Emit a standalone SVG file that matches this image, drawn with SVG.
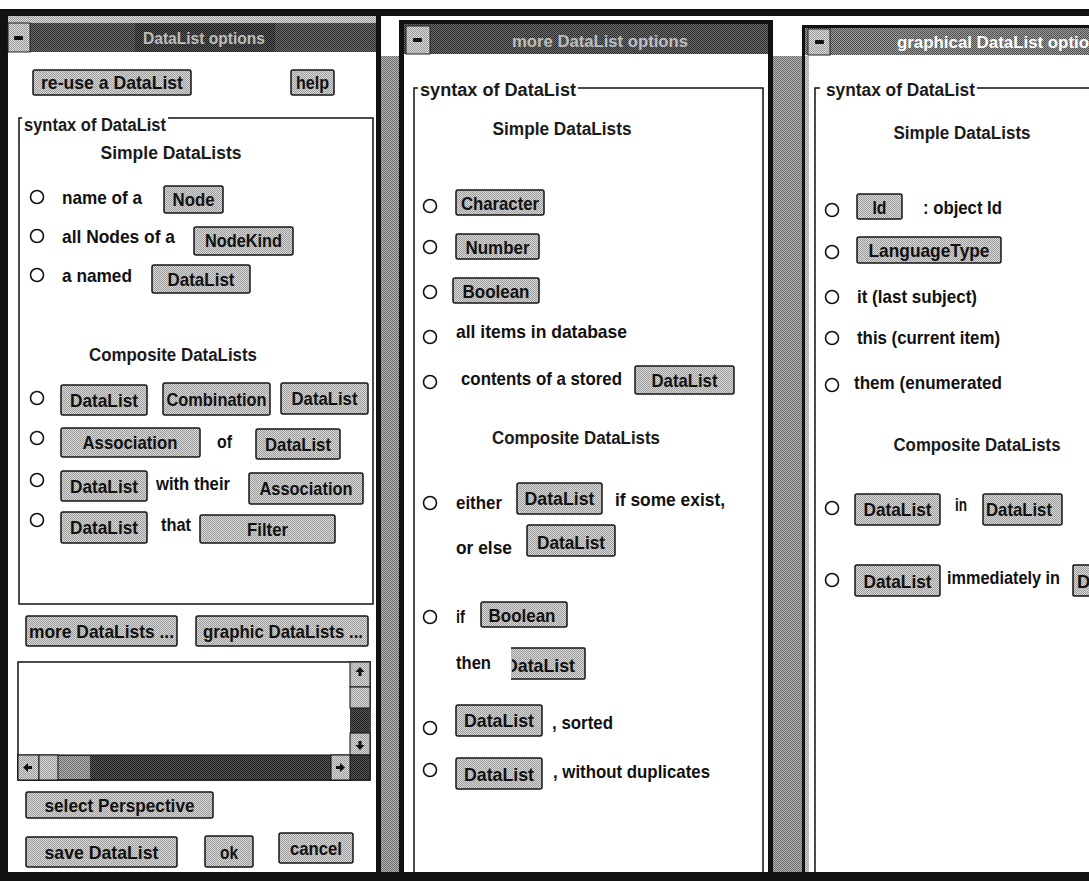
<svg xmlns="http://www.w3.org/2000/svg" width="1089" height="881" viewBox="0 0 1089 881">
<defs>
<pattern id="dith" width="2" height="2" patternUnits="userSpaceOnUse"><rect width="2" height="2" fill="#d8d8d8"/><rect width="1" height="1" fill="#9c9c9c"/><rect x="1" y="1" width="1" height="1" fill="#9c9c9c"/></pattern>
<pattern id="dithMid" width="2" height="2" patternUnits="userSpaceOnUse"><rect width="2" height="2" fill="#b4b4b4"/><rect width="1" height="1" fill="#6a6a6a"/><rect x="1" y="1" width="1" height="1" fill="#6a6a6a"/></pattern>
<pattern id="dithDark" width="2" height="2" patternUnits="userSpaceOnUse"><rect width="2" height="2" fill="#5a5a5a"/><rect width="1" height="1" fill="#1c1c1c"/><rect x="1" y="1" width="1" height="1" fill="#1c1c1c"/></pattern>
<pattern id="dithT2" width="2" height="2" patternUnits="userSpaceOnUse"><rect width="2" height="2" fill="#6e6e6e"/><rect width="1" height="1" fill="#2c2c2c"/><rect x="1" y="1" width="1" height="1" fill="#2c2c2c"/></pattern>
<pattern id="dithT3" width="2" height="2" patternUnits="userSpaceOnUse"><rect width="2" height="2" fill="#a0a0a0"/><rect width="1" height="1" fill="#4a4a4a"/><rect x="1" y="1" width="1" height="1" fill="#4a4a4a"/></pattern>
<clipPath id="clipThen"><rect x="512" y="645" width="80" height="38"/></clipPath>
<style>
.t{font-family:"Liberation Sans Narrow","Liberation Sans",Arial,sans-serif;font-weight:bold;font-size:18.5px;fill:#111}
.h{font-size:18px;fill:#1a1a1a}
.c{text-anchor:middle}
.ttl{font-size:17px}
.btn{fill:url(#dith);stroke:#151515;stroke-width:1.5}
.rd{fill:#fff;stroke:#111;stroke-width:1.6}
.ln{stroke:#111;stroke-width:1.5;fill:none}
.sys{fill:url(#dith);stroke:#222;stroke-width:1}
.min{fill:#111}
.arr{fill:#111}
</style>
</defs>
<rect width="1089" height="881" fill="#fff"/>

<g id="frames">
<rect x="0" y="9" width="1089" height="7" fill="#111"/>
<rect x="0" y="872" width="1089" height="9" fill="#111"/>
<rect x="0" y="9" width="8" height="872" fill="#111"/>
<rect x="376" y="16" width="5" height="856" fill="#111"/>
<rect x="381" y="56" width="18" height="816" fill="url(#dithMid)"/>
<rect x="399" y="20" width="5" height="852" fill="#111"/>
<rect x="399" y="20" width="373" height="4" fill="#111"/>
<rect x="768" y="20" width="5" height="852" fill="#111"/>
<rect x="773" y="56" width="29" height="816" fill="url(#dithMid)"/>
<rect x="802" y="25" width="3" height="847" fill="#111"/>
<rect x="802" y="25" width="287" height="3" fill="#111"/>
<rect x="805" y="56" width="4" height="816" fill="url(#dith)"/>
</g>

<g id="window-left">
<rect x="8" y="16" width="368" height="7" fill="url(#dith)"/>
<rect x="8" y="23" width="368" height="29" fill="url(#dithT2)"/>
<rect x="135" y="23" width="140" height="29" fill="url(#dithDark)"/>
<rect x="8" y="23" width="22" height="29" class="sys"/>
<rect x="14" y="36" width="9" height="4" rx="1" class="min"/>
<text class="t ttl c" x="204" y="44" textLength="122" lengthAdjust="spacingAndGlyphs" style="fill:#bdbdbd">DataList options</text>

<g id="btn-reuse"><rect class="btn" x="33" y="70" width="158" height="25" rx="2"/><text class="t c" x="112" y="89" textLength="142" lengthAdjust="spacingAndGlyphs">re-use a DataList</text></g>
<g id="btn-help"><rect class="btn" x="291" y="70" width="43" height="25" rx="2"/><text class="t c" x="312.5" y="89" textLength="33" lengthAdjust="spacingAndGlyphs">help</text></g>

<path class="ln" d="M 22 118 H 19 V 604 H 373 V 118 H 168"/>
<text class="t h" x="24" y="131" textLength="142" lengthAdjust="spacingAndGlyphs">syntax of DataList</text>
<text class="t h c" x="171" y="159" textLength="141" lengthAdjust="spacingAndGlyphs">Simple DataLists</text>

<circle class="rd" cx="37" cy="197" r="6.5"/>
<text class="t" x="62" y="204" textLength="80" lengthAdjust="spacingAndGlyphs">name of a</text>
<g id="btn-node"><rect class="btn" x="164" y="186" width="59" height="27" rx="2"/><text class="t c" x="193.5" y="206" textLength="42" lengthAdjust="spacingAndGlyphs">Node</text></g>

<circle class="rd" cx="37" cy="236" r="6.5"/>
<text class="t" x="62" y="243" textLength="113" lengthAdjust="spacingAndGlyphs">all Nodes of a</text>
<g id="btn-nodekind"><rect class="btn" x="194" y="227" width="99" height="28" rx="2"/><text class="t c" x="243.5" y="247" textLength="77" lengthAdjust="spacingAndGlyphs">NodeKind</text></g>

<circle class="rd" cx="37" cy="275" r="6.5"/>
<text class="t" x="62" y="282" textLength="70" lengthAdjust="spacingAndGlyphs">a named</text>
<g id="btn-named"><rect class="btn" x="152" y="265" width="98" height="28" rx="2"/><text class="t c" x="201" y="286" textLength="67" lengthAdjust="spacingAndGlyphs">DataList</text></g>

<text class="t h c" x="173" y="361" textLength="168" lengthAdjust="spacingAndGlyphs">Composite DataLists</text>

<circle class="rd" cx="37" cy="398" r="6.5"/>
<rect class="btn" x="61" y="385" width="86" height="30" rx="2"/><text class="t c" x="104" y="407" textLength="68" lengthAdjust="spacingAndGlyphs">DataList</text>
<rect class="btn" x="163" y="383" width="107" height="32" rx="2"/><text class="t c" x="216.5" y="406" textLength="100" lengthAdjust="spacingAndGlyphs">Combination</text>
<rect class="btn" x="281" y="383" width="87" height="31" rx="2"/><text class="t c" x="324.5" y="405" textLength="66" lengthAdjust="spacingAndGlyphs">DataList</text>

<circle class="rd" cx="37" cy="438" r="6.5"/>
<rect class="btn" x="61" y="428" width="139" height="29" rx="2"/><text class="t c" x="130" y="449" textLength="95" lengthAdjust="spacingAndGlyphs">Association</text>
<text class="t" x="217" y="448" textLength="15" lengthAdjust="spacingAndGlyphs">of</text>
<rect class="btn" x="256" y="429" width="84" height="30" rx="2"/><text class="t c" x="298" y="451" textLength="66" lengthAdjust="spacingAndGlyphs">DataList</text>

<circle class="rd" cx="37" cy="480" r="6.5"/>
<rect class="btn" x="61" y="471" width="86" height="30" rx="2"/><text class="t c" x="104" y="493" textLength="68" lengthAdjust="spacingAndGlyphs">DataList</text>
<text class="t" x="156" y="490" textLength="74" lengthAdjust="spacingAndGlyphs">with their</text>
<rect class="btn" x="249" y="473" width="114" height="31" rx="2"/><text class="t c" x="306" y="495" textLength="93" lengthAdjust="spacingAndGlyphs">Association</text>

<circle class="rd" cx="37" cy="520" r="6.5"/>
<rect class="btn" x="61" y="512" width="86" height="31" rx="2"/><text class="t c" x="104" y="534" textLength="68" lengthAdjust="spacingAndGlyphs">DataList</text>
<text class="t" x="161" y="531" textLength="30" lengthAdjust="spacingAndGlyphs">that</text>
<rect class="btn" x="200" y="515" width="135" height="28" rx="2"/><text class="t c" x="267.5" y="536" textLength="41" lengthAdjust="spacingAndGlyphs">Filter</text>

<g id="btn-more"><rect class="btn" x="26" y="616" width="151" height="30" rx="2"/><text class="t c" x="101.5" y="638" textLength="145" lengthAdjust="spacingAndGlyphs">more DataLists ...</text></g>
<g id="btn-graphic"><rect class="btn" x="196" y="616" width="172" height="30" rx="2"/><text class="t c" x="283" y="638" textLength="160" lengthAdjust="spacingAndGlyphs">graphic DataLists ...</text></g>

<g id="listbox">
<rect x="18" y="662" width="352" height="118" fill="#fff" stroke="#111" stroke-width="1.5"/>
<rect x="350" y="708" width="20" height="25" fill="url(#dithDark)"/>
<rect x="350" y="662" width="20" height="25" fill="url(#dith)" stroke="#111"/>
<path class="arr" d="M360 667 l-4.5 5 h3 v4 h3 v-4 h3 z"/>
<rect x="350" y="687" width="20" height="21" fill="url(#dith)" stroke="#111"/>
<rect x="350" y="733" width="20" height="22" fill="url(#dith)" stroke="#111"/>
<path class="arr" d="M360 750 l-4.5 -5 h3 v-4 h3 v4 h3 z"/>
<rect x="18" y="755" width="352" height="25" fill="url(#dithDark)" stroke="#111"/>
<rect x="58" y="756" width="32" height="23" fill="url(#dithMid)"/>
<rect x="18" y="755" width="21" height="25" fill="url(#dith)" stroke="#111"/>
<path class="arr" d="M23 767.5 l5 -4.5 v3 h4 v3 h-4 v3 z"/>
<rect x="39" y="755" width="19" height="25" fill="url(#dith)" stroke="#111"/>
<rect x="331" y="755" width="19" height="25" fill="url(#dith)" stroke="#111"/>
<path class="arr" d="M345 767.5 l-5 -4.5 v3 h-4 v3 h4 v3 z"/>
</g>

<g id="btn-persp"><rect class="btn" x="26" y="792" width="187" height="26" rx="2"/><text class="t c" x="119.5" y="812" textLength="150" lengthAdjust="spacingAndGlyphs">select Perspective</text></g>
<g id="btn-save"><rect class="btn" x="26" y="837" width="151" height="30" rx="2"/><text class="t c" x="101.5" y="859" textLength="114" lengthAdjust="spacingAndGlyphs">save DataList</text></g>
<g id="btn-ok"><rect class="btn" x="205" y="836" width="48" height="31" rx="2"/><text class="t c" x="229" y="859" textLength="18" lengthAdjust="spacingAndGlyphs">ok</text></g>
<g id="btn-cancel"><rect class="btn" x="279" y="833" width="74" height="30" rx="2"/><text class="t c" x="316" y="855" textLength="52" lengthAdjust="spacingAndGlyphs">cancel</text></g>
</g>

<g id="window-middle">
<rect x="404" y="24" width="364" height="30" fill="url(#dithT2)"/>
<rect x="406" y="26" width="24" height="28" class="sys"/>
<rect x="413" y="38" width="9" height="4" rx="1" class="min"/>
<text class="t ttl c" x="600" y="47" textLength="176" lengthAdjust="spacingAndGlyphs" style="fill:#bdbdbd">more DataList options</text>

<path class="ln" d="M 418 88 H 414 V 872 M 578 88 H 763 V 872"/>
<text class="t h" x="420" y="96" textLength="156" lengthAdjust="spacingAndGlyphs">syntax of DataList</text>
<text class="t h c" x="562" y="135" textLength="139" lengthAdjust="spacingAndGlyphs">Simple DataLists</text>

<circle class="rd" cx="430" cy="206" r="6.5"/>
<rect class="btn" x="456" y="190" width="88" height="25" rx="2"/><text class="t c" x="500" y="210" textLength="78" lengthAdjust="spacingAndGlyphs">Character</text>
<circle class="rd" cx="430" cy="247" r="6.5"/>
<rect class="btn" x="456" y="234" width="83" height="25" rx="2"/><text class="t c" x="497.5" y="254" textLength="64" lengthAdjust="spacingAndGlyphs">Number</text>
<circle class="rd" cx="430" cy="292" r="6.5"/>
<rect class="btn" x="453" y="278" width="86" height="25" rx="2"/><text class="t c" x="496" y="298" textLength="67" lengthAdjust="spacingAndGlyphs">Boolean</text>
<circle class="rd" cx="430" cy="337" r="6.5"/>
<text class="t" x="456" y="338" textLength="171" lengthAdjust="spacingAndGlyphs">all items in database</text>
<circle class="rd" cx="430" cy="382" r="6.5"/>
<text class="t" x="461" y="385" textLength="161" lengthAdjust="spacingAndGlyphs">contents of a stored</text>
<rect class="btn" x="635" y="366" width="99" height="28" rx="2"/><text class="t c" x="684.5" y="387" textLength="66" lengthAdjust="spacingAndGlyphs">DataList</text>

<text class="t h c" x="576" y="444" textLength="168" lengthAdjust="spacingAndGlyphs">Composite DataLists</text>

<circle class="rd" cx="430" cy="503" r="6.5"/>
<text class="t" x="456" y="509" textLength="46" lengthAdjust="spacingAndGlyphs">either</text>
<rect class="btn" x="517" y="483" width="85" height="31" rx="2"/><text class="t c" x="559.5" y="505" textLength="70" lengthAdjust="spacingAndGlyphs">DataList</text>
<text class="t" x="615" y="506" textLength="110" lengthAdjust="spacingAndGlyphs">if some exist,</text>
<text class="t" x="456" y="554" textLength="56" lengthAdjust="spacingAndGlyphs">or else</text>
<rect class="btn" x="527" y="525" width="88" height="31" rx="2"/><text class="t c" x="571" y="549" textLength="68" lengthAdjust="spacingAndGlyphs">DataList</text>

<circle class="rd" cx="430" cy="617" r="6.5"/>
<text class="t" x="456" y="623" textLength="9" lengthAdjust="spacingAndGlyphs">if</text>
<rect class="btn" x="481" y="602" width="86" height="25" rx="2"/><text class="t c" x="522" y="622" textLength="67" lengthAdjust="spacingAndGlyphs">Boolean</text>
<text class="t" x="456" y="669" textLength="35" lengthAdjust="spacingAndGlyphs">then</text>
<rect x="511" y="648" width="74" height="31" fill="url(#dith)"/>
<path class="ln" d="M 511 648 H 584 Q 585 648 585 649 V 678 Q 585 679 584 679 H 511"/>
<text class="t c" x="540" y="672" textLength="70" lengthAdjust="spacingAndGlyphs" clip-path="url(#clipThen)">DataList</text>

<circle class="rd" cx="430" cy="728" r="6.5"/>
<rect class="btn" x="456" y="705" width="86" height="31" rx="2"/><text class="t c" x="499" y="727" textLength="70" lengthAdjust="spacingAndGlyphs">DataList</text>
<text class="t" x="552" y="729" textLength="61" lengthAdjust="spacingAndGlyphs">, sorted</text>
<circle class="rd" cx="430" cy="770" r="6.5"/>
<rect class="btn" x="456" y="758" width="86" height="31" rx="2"/><text class="t c" x="499" y="781" textLength="70" lengthAdjust="spacingAndGlyphs">DataList</text>
<text class="t" x="553" y="778" textLength="157" lengthAdjust="spacingAndGlyphs">, without duplicates</text>
</g>

<g id="window-right">
<rect x="805" y="28" width="284" height="27" fill="url(#dithT3)"/>
<rect x="808" y="29" width="22" height="26" class="sys"/>
<rect x="815" y="40" width="9" height="4" rx="1" class="min"/>
<text class="t ttl" x="897" y="48" textLength="192" lengthAdjust="spacingAndGlyphs" style="fill:#fff">graphical DataList optio</text>

<path class="ln" d="M 820 88 H 815 V 872 M 977 88 H 1089"/>
<text class="t h" x="826" y="96" textLength="149" lengthAdjust="spacingAndGlyphs">syntax of DataList</text>
<text class="t h c" x="962" y="139" textLength="137" lengthAdjust="spacingAndGlyphs">Simple DataLists</text>

<circle class="rd" cx="832" cy="210" r="6.5"/>
<rect class="btn" x="857" y="194" width="45" height="25" rx="2"/><text class="t c" x="879.5" y="214" textLength="14" lengthAdjust="spacingAndGlyphs">Id</text>
<text class="t" x="923" y="214" textLength="79" lengthAdjust="spacingAndGlyphs">: object Id</text>
<circle class="rd" cx="832" cy="252" r="6.5"/>
<rect class="btn" x="857" y="237" width="144" height="26" rx="2"/><text class="t c" x="929" y="257" textLength="121" lengthAdjust="spacingAndGlyphs">LanguageType</text>
<circle class="rd" cx="832" cy="297" r="6.5"/>
<text class="t" x="857" y="303" textLength="120" lengthAdjust="spacingAndGlyphs">it (last subject)</text>
<circle class="rd" cx="832" cy="338" r="6.5"/>
<text class="t" x="857" y="344" textLength="143" lengthAdjust="spacingAndGlyphs">this (current item)</text>
<circle class="rd" cx="832" cy="385" r="6.5"/>
<text class="t" x="854" y="389" textLength="148" lengthAdjust="spacingAndGlyphs">them (enumerated</text>

<text class="t h c" x="977" y="451" textLength="167" lengthAdjust="spacingAndGlyphs">Composite DataLists</text>

<circle class="rd" cx="832" cy="508" r="6.5"/>
<rect class="btn" x="855" y="494" width="85" height="31" rx="2"/><text class="t c" x="897.5" y="516" textLength="68" lengthAdjust="spacingAndGlyphs">DataList</text>
<text class="t" x="955" y="511" textLength="12" lengthAdjust="spacingAndGlyphs">in</text>
<rect class="btn" x="983" y="494" width="79" height="31" rx="2"/><text class="t c" x="1019" y="516" textLength="66" lengthAdjust="spacingAndGlyphs">DataList</text>

<circle class="rd" cx="832" cy="580" r="6.5"/>
<rect class="btn" x="855" y="565" width="85" height="31" rx="2"/><text class="t c" x="897.5" y="588" textLength="68" lengthAdjust="spacingAndGlyphs">DataList</text>
<text class="t" x="947" y="584" textLength="113" lengthAdjust="spacingAndGlyphs">immediately in</text>
<rect x="1073" y="565" width="16" height="31" fill="url(#dith)"/>
<path class="ln" d="M 1089 565 H 1074 Q 1073 565 1073 566 V 595 Q 1073 596 1074 596 H 1089"/>
<text class="t" x="1077" y="588">D</text>
</g>
</svg>
